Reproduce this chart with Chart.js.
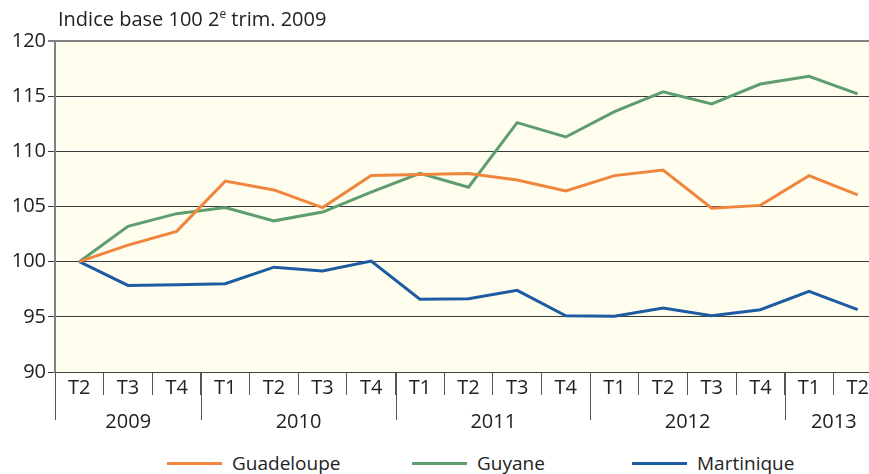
<!DOCTYPE html>
<html>
<head>
<meta charset="utf-8">
<script src="https://cdn.jsdelivr.net/npm/chart.js@4"></script>
<style>
  html, body { margin: 0; padding: 0; width: 869px; height: 474px; overflow: hidden; background: #fff; }
  body { position: relative; font-family: "Open Sans", sans-serif; color: #222; }
  #wrap { position: absolute; left: 0; top: 0; width: 882px; height: 440px; }
  .title { position: absolute; left: 58px; top: 5px; font-size: 20px; white-space: nowrap; }
  .title sup { font-size: 12px; vertical-align: 8px; line-height: 0; }
  .legend-item { position: absolute; top: 450px; font-size: 19px; white-space: nowrap; line-height: 26px; }
  .legend-item span.swatch { position: absolute; left: 0; top: 12px; width: 55px; height: 3px; }
  .legend-item span.txt { margin-left: 65px; }
</style>
</head>
<body>
<div id="wrap"><canvas id="chart" width="882" height="440"></canvas></div>
<div class="title">Indice base 100 2<sup>e</sup> trim. 2009</div>
<div id="legend"></div>
<script>
// quarters and the year each quarter belongs to
const quarters = ["T2", "T3", "T4", "T1", "T2", "T3", "T4", "T1", "T2", "T3", "T4", "T1", "T2", "T3", "T4", "T1", "T2"];
const years = ["2009", "2009", "2009", "2010", "2010", "2010", "2010", "2011", "2011", "2011", "2011",
  "2012", "2012", "2012", "2012", "2013", "2013"];

const guadeloupe = [100, 101.5, 102.75, 107.3, 106.5, 104.9, 107.8, 107.9, 108.0, 107.4, 106.4,
  107.8, 108.3, 104.85, 105.1, 107.8, 106.05];
const guyane = [100, 103.2, 104.35, 104.9, 103.7, 104.5, 106.3, 108.0, 106.75, 112.6, 111.3,
  113.6, 115.4, 114.3, 116.1, 116.8, 115.2];
const martinique = [100, 97.85, 97.9, 98.0, 99.5, 99.15, 100.05, 96.6, 96.65, 97.4, 95.1,
  95.05, 95.8, 95.1, 95.65, 97.3, 95.65];

const seriesNames = ["Guadeloupe", "Guyane", "Martinique"];
const seriesColors = ["#f0863e", "#5e9e6e", "#1d5ca3"];
// where the legend entries sit along the bottom row
const legendLeft = [167, 412, 632];

const FONT = '"Open Sans", sans-serif';

const plotBackground = {
  id: "plotBackground",
  beforeDraw(chart) {
    const a = chart.chartArea, ctx = chart.ctx;
    ctx.save();
    ctx.fillStyle = "#fffdee";
    ctx.fillRect(a.left, a.top, a.right - a.left, a.bottom - a.top);
    ctx.restore();
  }
};

// second row of the x axis: year names and the long separators
const yearGroups = {
  id: "yearGroups",
  afterDraw(chart) {
    const xs = chart.scales.x, ctx = chart.ctx;
    const top = chart.chartArea.bottom;
    ctx.save();
    ctx.strokeStyle = "#555";
    ctx.lineWidth = 1;
    ctx.fillStyle = "#222";
    ctx.font = "20px " + FONT;
    ctx.textAlign = "center";
    ctx.textBaseline = "middle";
    let start = 0;
    for (let i = 1; i <= years.length; i++) {
      if (i === years.length || years[i] !== years[start]) {
        const x0 = Math.round(xs.getPixelForValue(start - 0.5)) + 0.5;
        const x1 = xs.getPixelForValue(i - 0.5);
        ctx.beginPath();
        ctx.moveTo(x0, top);
        ctx.lineTo(x0, top + 48);
        ctx.stroke();
        ctx.fillText(years[start], (x0 + x1) / 2, top + 50);
        start = i;
      }
    }
    ctx.restore();
  }
};

const datasets = [guadeloupe, guyane, martinique].map((d, i) => ({
  label: seriesNames[i],
  data: d,
  borderColor: seriesColors[i],
  backgroundColor: seriesColors[i],
  borderWidth: 3,
  pointRadius: 0,
  tension: 0,
  fill: false
}));

const chart = new Chart(document.getElementById("chart"), {
  type: "line",
  data: { labels: quarters, datasets: datasets },
  options: {
    responsive: false,
    animation: false,
    devicePixelRatio: 1,
    layout: { padding: { top: 41, right: 0, bottom: 0, left: 0 } },
    plugins: {
      legend: { display: false },
      tooltip: { enabled: false }
    },
    scales: {
      x: {
        offset: true,
        grid: {
          offset: true,
          drawOnChartArea: false,
          drawTicks: true,
          tickLength: 23,
          color: "#555"
        },
        border: { color: "#444", width: 1 },
        ticks: {
          color: "#222",
          font: { family: FONT, size: 20 },
          padding: -19,
          maxRotation: 0,
          autoSkip: false
        },
        afterFit(scale) { scale.height = 68; }
      },
      y: {
        min: 90,
        max: 120,
        ticks: {
          stepSize: 5,
          color: "#222",
          font: { family: FONT, size: 20 },
          padding: 2
        },
        grid: {
          tickLength: 7,
          color: (c) => (c.tick && c.tick.value === 120 ? "#808080" : "#3c3c3c"),
          lineWidth: (c) => (c.tick && c.tick.value === 120 ? 2 : 1)
        },
        border: { color: "#808080", width: 2 },
        afterFit(scale) { scale.width = 55; }
      }
    }
  },
  plugins: [plotBackground, yearGroups]
});

// legend row under the chart
const legend = document.getElementById("legend");
chart.data.datasets.forEach((ds, i) => {
  const item = document.createElement("div");
  item.className = "legend-item";
  item.style.left = legendLeft[i] + "px";
  const sw = document.createElement("span");
  sw.className = "swatch";
  sw.style.background = ds.borderColor;
  const txt = document.createElement("span");
  txt.className = "txt";
  txt.textContent = ds.label;
  item.appendChild(sw);
  item.appendChild(txt);
  legend.appendChild(item);
});
</script>
</body>
</html>
